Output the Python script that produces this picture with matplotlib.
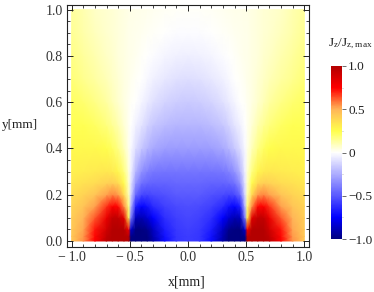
import numpy as np
import matplotlib
matplotlib.use("Agg")
import matplotlib.pyplot as plt
from matplotlib.colors import LinearSegmentedColormap
from matplotlib.ticker import MultipleLocator, FixedLocator, FuncFormatter

plt.rcParams['font.family'] = ['Liberation Serif', 'DejaVu Serif']
plt.rcParams['mathtext.fontset'] = 'custom'
plt.rcParams['mathtext.rm'] = 'Liberation Serif'

# right half of the map, x >= 0 (left half is the mirror image)
x_half = [0, .1, .2, .3, .35, .4, .45, .49, .51, .55, .6, .65, .7, .8, .9, 1.0]
y_vals = [0, .02, .05, .1, .15, .2, .25, .3, .4, .5, .6, .7, .8, .9, 1.0]
jz_half = [
    [-.58, -.60, -.72, -.92, -1.0, -1.0, -1.0, -1.0, 1.0, 1.0, 1.0, 1.0, .97, .75, .55, .44],
    [-.58, -.60, -.70, -.90, -1.0, -1.0, -1.0, -.98, .98, 1.0, 1.0, 1.0, .95, .74, .54, .44],
    [-.57, -.59, -.67, -.87, -.97, -1.0, -1.0, -.85, .80, 1.0, 1.0, 1.0, .90, .72, .52, .43],
    [-.55, -.57, -.62, -.75, -.84, -.90, -.88, -.40, .32, .85, .95, .95, .82, .63, .50, .42],
    [-.53, -.54, -.57, -.63, -.70, -.74, -.66, -.22, .18, .56, .74, .76, .68, .53, .45, .40],
    [-.50, -.50, -.52, -.54, -.56, -.55, -.45, -.12, .11, .38, .54, .57, .53, .45, .40, .37],
    [-.46, -.46, -.47, -.47, -.46, -.43, -.32, -.08, .08, .26, .38, .42, .41, .37, .35, .33],
    [-.42, -.42, -.42, -.41, -.38, -.33, -.22, -.05, .06, .18, .28, .32, .33, .32, .31, .30],
    [-.30, -.30, -.29, -.26, -.22, -.17, -.10, -.02, .03, .10, .17, .22, .25, .27, .27, .27],
    [-.22, -.22, -.20, -.17, -.13, -.08, -.04, 0, .02, .06, .11, .15, .18, .22, .24, .24],
    [-.16, -.15, -.13, -.09, -.06, -.03, 0, .01, .02, .04, .07, .10, .13, .17, .20, .22],
    [-.10, -.09, -.07, -.04, -.02, 0, .01, .02, .03, .04, .06, .08, .10, .13, .16, .19],
    [-.05, -.04, -.03, -.01, 0, .01, .02, .03, .03, .04, .05, .07, .08, .11, .14, .17],
    [-.01, -.01, 0, .01, .015, .02, .025, .03, .03, .04, .05, .06, .07, .09, .12, .15],
    [.01, .01, .015, .02, .025, .03, .03, .035, .035, .04, .05, .06, .065, .08, .11, .14],
]
cbar_vals = [-1, -.95, -.9, -.85, -.8, -.75, -.7, -.65, -.6, -.55, -.5, -.45, -.4, -.35, -.3, -.25, -.2, -.15, -.1, -.05,
             0, .05, .1, .15, .2, .25, .3, .35, .4, .45, .5, .55, .6, .65, .7, .75, .8, .85, .9, .95, 1]

x_half = np.array(x_half)
jz_half = np.array(jz_half)
x = np.concatenate([-x_half[:0:-1], x_half])
jz = np.hstack([jz_half[:, :0:-1], jz_half])

cmap = LinearSegmentedColormap.from_list("jz", [
    (0.0, (0.0, 0.0, 0.50)),
    (0.125, (0.0, 0.0, 1.0)),
    (0.25, (0.35, 0.35, 1.0)),
    (0.5, (1.0, 1.0, 1.0)),
    (0.625, (1.0, 1.0, 0.3)),
    (0.75, (1.0, 0.72, 0.35)),
    (0.875, (1.0, 0.0, 0.0)),
    (1.0, (0.70, 0.0, 0.0)),
], N=512)

W, H = 374, 292
fig = plt.figure(figsize=(W / 100, H / 100), dpi=100)

# main plot
ax = fig.add_axes([67 / W, 1 - 247 / H, 242 / W, 242 / H])
ax.pcolormesh(x, y_vals, jz, cmap=cmap, vmin=-1, vmax=1, shading='gouraud')
ax.set_xlim(-1.04, 1.04)
ax.set_ylim(-0.026, 1.02)
fmt = FuncFormatter(lambda v, p: ("\u2212\u2009%.1f" % abs(v)) if v < -1e-9 else "%.1f" % abs(v))
ax.xaxis.set_major_locator(MultipleLocator(0.5))
ax.xaxis.set_minor_locator(MultipleLocator(0.1))
ax.yaxis.set_major_locator(MultipleLocator(0.2))
ax.yaxis.set_minor_locator(MultipleLocator(0.05))
ax.xaxis.set_major_formatter(fmt)
ax.yaxis.set_major_formatter(fmt)
ax.tick_params(which='both', direction='in', top=True, right=True, color='#222222', labelsize=10, labelcolor='#333333')
ax.tick_params(which='major', length=4, width=0.7, pad=3)
ax.tick_params(which='minor', length=2, width=0.6)
for s in ax.spines.values():
    s.set_linewidth(0.8)
    s.set_color('#222222')

fig.text(187 / W, 1 - 282 / H, "x[mm]", fontsize=10, ha='center', va='center', color='#222222')
fig.text(20 / W, 1 - 125 / H, "y[mm]", fontsize=9.5, ha='center', va='center', color='#222222')

# colorbar
cax = fig.add_axes([331 / W, 1 - 239 / H, 11 / W, 173 / H])
c = np.array(cbar_vals).reshape(-1, 1)
cax.pcolormesh([0, 1], cbar_vals, np.hstack([c, c]), cmap=cmap, vmin=-1, vmax=1, shading='gouraud')
cax.set_xlim(0, 1)
cax.set_ylim(-1, 1)
cax.set_xticks([])
cax.yaxis.tick_right()
cax.yaxis.set_major_locator(FixedLocator([-1, -.5, 0, .5, 1]))
cax.yaxis.set_minor_locator(MultipleLocator(0.25))
cax.yaxis.set_major_formatter(FuncFormatter(lambda v, p: ("\u2212%.1f" % abs(v)) if v < 0 else ("0" if v == 0 else "%.1f" % v)))
cax.tick_params(which='major', direction='out', length=3, width=0.6, pad=1.5, labelsize=9.5, color='#555555', labelcolor='#222222')
cax.tick_params(which='minor', direction='out', length=1, width=0.5, color='#aaaaaa')
for s in cax.spines.values():
    s.set_visible(False)

fig.text(350 / W, 1 - 44 / H, r"$\mathrm{J_z/J_{z,max}}$", fontsize=9.5, ha='center', va='center', color='#222222')

fig.savefig("out.png", dpi=100)
